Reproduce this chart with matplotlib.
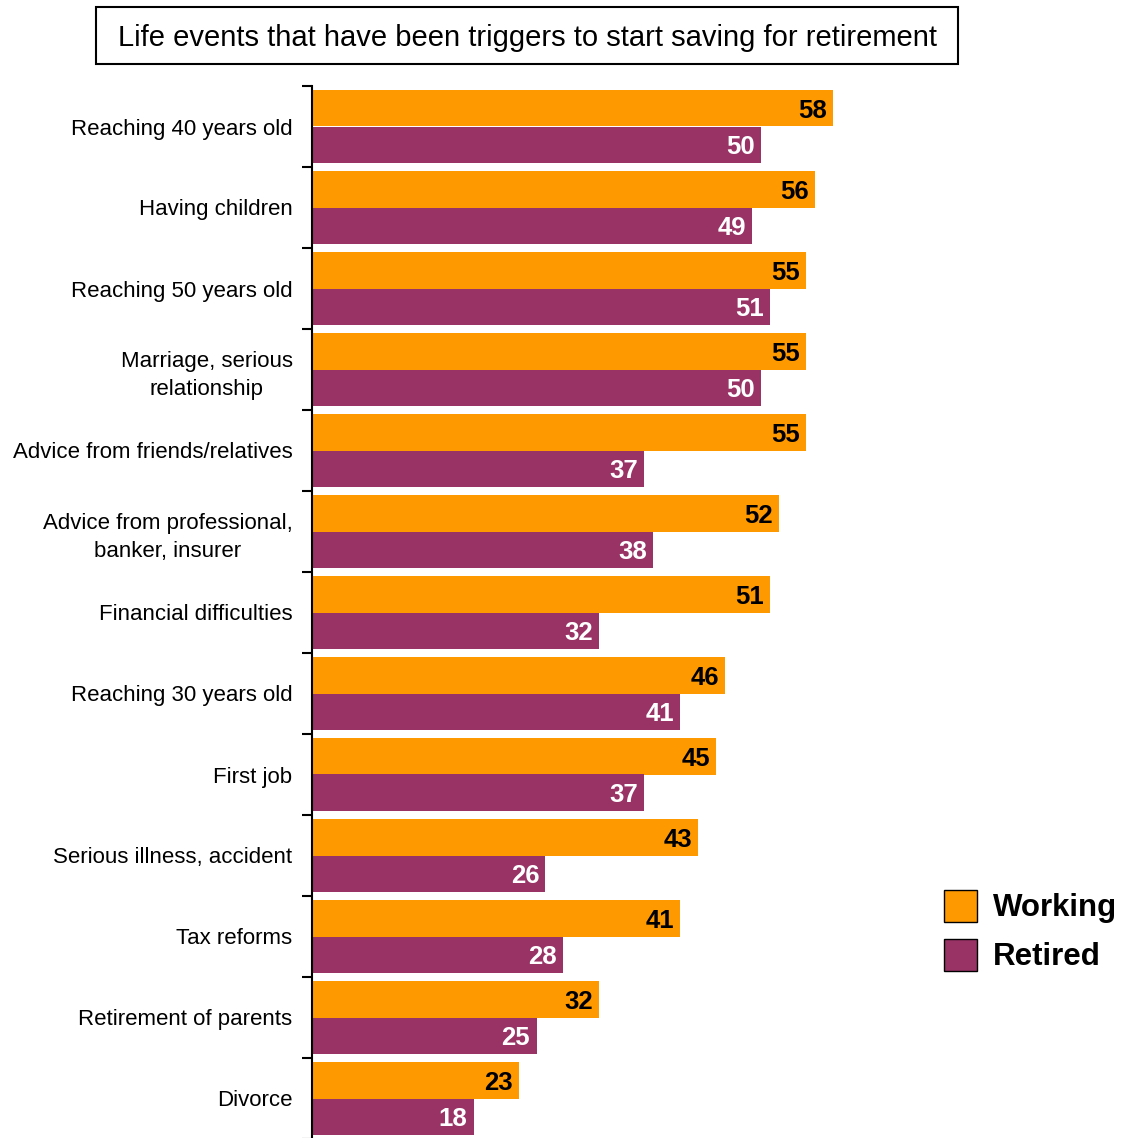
import numpy as np
import matplotlib.pyplot as plt
from matplotlib.patches import Patch, Rectangle

plt.rcParams['font.family'] = ['Liberation Sans', 'DejaVu Sans']

categories = ["Reaching 40 years old", "Having children", "Reaching 50 years old",
              "Marriage, serious\nrelationship", "Advice from friends/relatives",
              "Advice from professional,\nbanker, insurer", "Financial difficulties",
              "Reaching 30 years old", "First job", "Serious illness, accident",
              "Tax reforms", "Retirement of parents", "Divorce"]
working = [58, 56, 55, 55, 55, 52, 51, 46, 45, 43, 41, 32, 23]
retired = [50, 49, 51, 50, 37, 38, 32, 41, 37, 26, 28, 25, 18]

ORANGE = "#FF9900"
PURPLE = "#993366"

W, H = 1133, 1138
fig = plt.figure(figsize=(W / 100, H / 100), dpi=100)

# axes placed in pixel coords: left spine at x=312, top 86, bottom 1139
ax_left, ax_right, ax_top, ax_bot = 312, 900, 86, 1139
ax = fig.add_axes([ax_left / W, 1 - ax_bot / H, (ax_right - ax_left) / W, (ax_bot - ax_top) / H])

n = len(categories)
y = np.arange(n)
bh = 0.455
ax.barh(y - bh / 2, working, height=bh, color=ORANGE)
ax.barh(y + bh / 2, retired, height=bh, color=PURPLE)

xmax = (ax_right - ax_left) / 8.98
ax.set_xlim(0, xmax)
ax.set_ylim(n - 0.5, -0.5)

val_font = dict(fontsize=18.5, fontweight="bold", family=["Liberation Sans Narrow", "Liberation Sans"])
for yi, w, r in zip(y, working, retired):
    ax.text(w - 0.7, yi - bh / 2, str(w), ha="right", va="center_baseline", color="black", **val_font)
    ax.text(r - 0.7, yi + bh / 2, str(r), ha="right", va="center_baseline", color="white", **val_font)

for s in ["top", "right", "bottom"]:
    ax.spines[s].set_visible(False)
ax.spines["left"].set_linewidth(1.5)
ax.set_xticks([])

# category labels on groups, boundary ticks between groups
ax.set_yticks(y)
ax.set_yticklabels(categories, fontsize=16, multialignment="center", linespacing=1.45)
ax.tick_params(axis="y", which="major", length=0, pad=14)
ax.set_yticks(np.arange(n + 1) - 0.5, minor=True)
ax.tick_params(axis="y", which="minor", length=7, width=1.5, direction="out")

# title box
fig.patches.append(Rectangle((96 / W, 1 - 64 / H), 862 / W, 57 / H, transform=fig.transFigure,
                             fill=False, ec="black", lw=1.5))
fig.text(527 / W, 1 - 38 / H, "Life events that have been triggers to start saving for retirement",
         ha="center", va="center", fontsize=21)

handles = [Patch(facecolor=ORANGE, edgecolor="black", label="Working"),
           Patch(facecolor=PURPLE, edgecolor="black", label="Retired")]
fig.legend(handles=handles, loc="center left", bbox_to_anchor=(916 / W, 1 - 931 / H),
           frameon=False, prop={"size": 22.5, "weight": "bold"},
           handlelength=1.05, handleheight=1.2, handletextpad=0.5, labelspacing=0.5)

fig.savefig("out.png", dpi=100)
